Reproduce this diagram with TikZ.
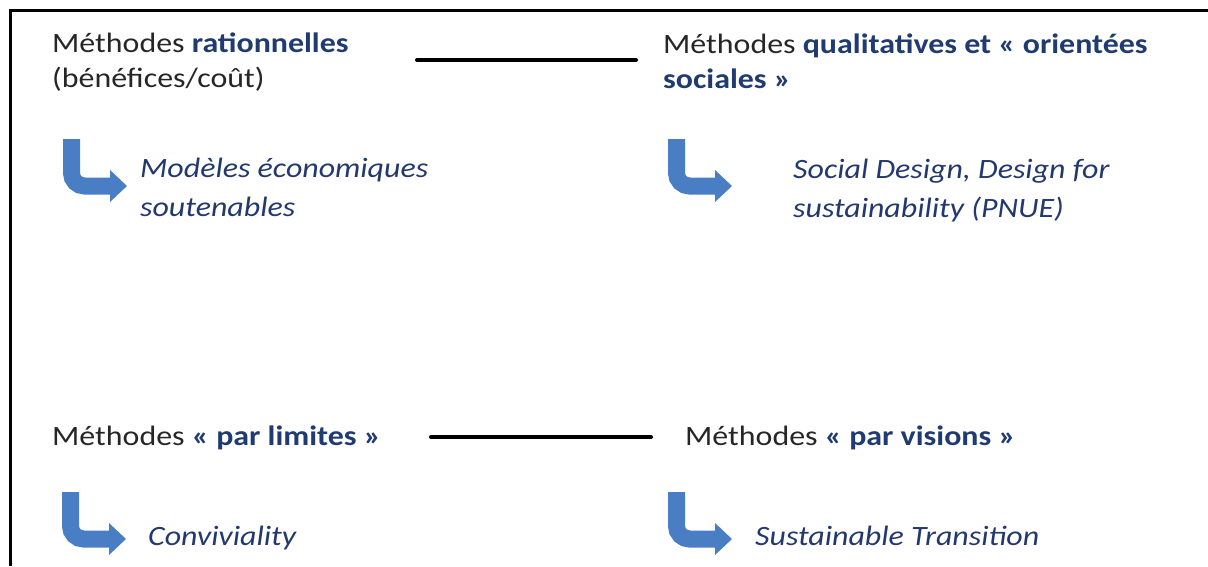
\documentclass[tikz,border=0pt]{standalone}
\usepackage{fontspec}
\setmainfont[FakeStretch=1.14]{Carlito}
\definecolor{txtgray}{HTML}{262626}
\definecolor{navy}{HTML}{1F3B72}
\definecolor{itnavy}{HTML}{23396E}
\definecolor{arrowblue}{HTML}{4A7EC4}
\begin{document}
\begin{tikzpicture}[x=1pt,y=-1pt,
  head/.style={anchor=base west,inner sep=0pt,align=left,text=txtgray,
    font=\fontsize{28}{35}\selectfont},
  sub/.style={anchor=base west,inner sep=0pt,align=left,text=itnavy,
    font=\fontsize{28}{39}\selectfont\itshape},
  link/.style={line width=4pt,line cap=round,black},
  frame/.style={line width=3pt,black},
  bentarrow/.pic={
    \draw[arrowblue,line width=17pt,rounded corners=13pt] (8.5,0) -- (8.5,47) -- (48,47);
    \fill[arrowblue] (47,31) -- (64,47) -- (47,63) -- cycle;
  }]
\useasboundingbox (0,0) rectangle (1208,566);
\draw[frame] (1208,10) -- (10,10) -- (10,566);
% headings (multi-line nodes: base = last line)
\node[head] (h1) at (52,87) {Méthodes \textbf{\color{navy}rationnelles}\\(bénéfices/coût)};
\node[head] (h2) at (663,88) {Méthodes \textbf{\color{navy}qualitatives et « orientées}\\\textbf{\color{navy}sociales »}};
\node[head] (h3) at (52,445) {Méthodes \textbf{\color{navy}« par limites »}};
\node[head] (h4) at (685,445) {Méthodes \textbf{\color{navy}« par visions »}};
% sub-texts
\node[sub] (s1) at (140,216) {Modèles économiques\\soutenables};
\node[sub] (s2) at (793,217) {Social Design, Design for\\sustainability (PNUE)};
\node[sub] (s3) at (148,545) {Conviviality};
\node[sub] (s4) at (755,545) {Sustainable Transition};
% connectors between headings
\coordinate (l1a) at (417,60);
\coordinate (l1b) at (636,60);
\coordinate (l2a) at (431,437);
\coordinate (l2b) at (651,437);
\draw[link] (l1a) -- (l1b);
\draw[link] (l2a) -- (l2b);
% bent arrows
\pic at (63,139) {bentarrow};
\pic at (668,139) {bentarrow};
\pic at (62,492) {bentarrow};
\pic at (668,492) {bentarrow};
\end{tikzpicture}
\end{document}
